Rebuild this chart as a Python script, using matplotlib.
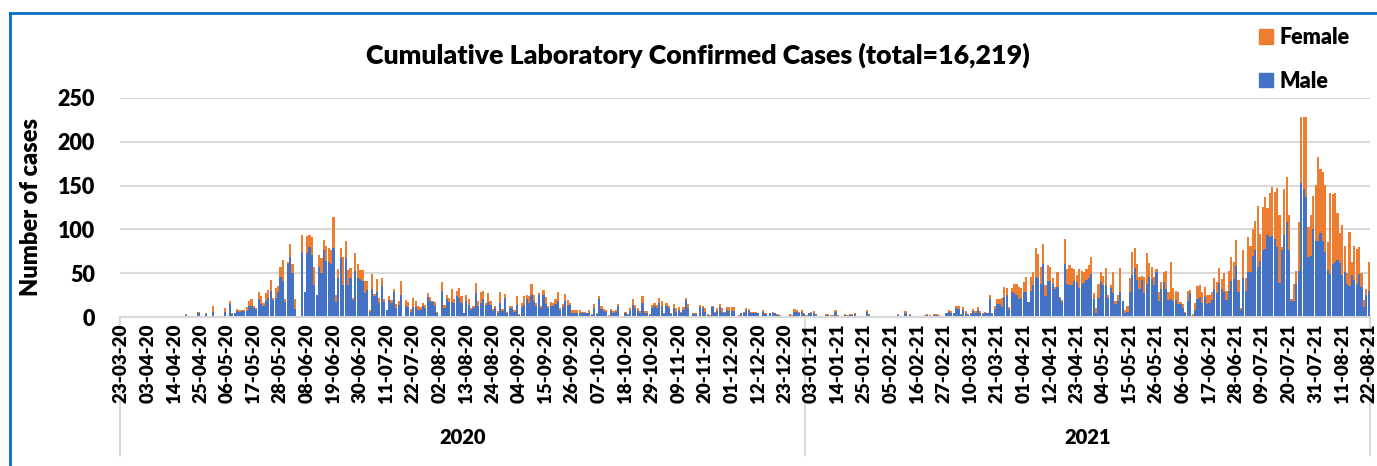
import numpy as np
import pandas as pd
import matplotlib
matplotlib.use("Agg")
import matplotlib.pyplot as plt
from matplotlib.patches import Patch
from matplotlib.lines import Line2D

# one category per day, 23-03-20 .. 22-08-21
dates = pd.date_range("2020-03-23", "2021-08-22", freq="D")
day_labels = list(dates.strftime("%d-%m-%y"))
years = ["2020", "2021"]
title = "Cumulative Laboratory Confirmed Cases (total=16,219)"

# daily cases, ten days per row
male = [
    0, 0, 0, 0, 0, 0, 0, 0, 0, 0,
    0, 0, 0, 0, 0, 0, 0, 0, 0, 0,
    0, 0, 0, 0, 0, 0, 0, 2, 0, 0,
    0, 0, 4, 0, 0, 3, 0, 1, 6, 1,
    0, 0, 0, 6, 0, 15, 3, 4, 7, 6,
    7, 7, 7, 13, 13, 10, 9, 21, 15, 12,
    18, 22, 30, 19, 22, 28, 46, 41, 17, 60,
    68, 50, 9, 0, 0, 74, 28, 73, 80, 71,
    37, 25, 57, 50, 76, 64, 63, 60, 79, 17,
    44, 67, 37, 67, 36, 44, 19, 53, 45, 43,
    41, 27, 31, 6, 32, 24, 29, 16, 35, 17,
    8, 19, 16, 29, 10, 14, 25, 0, 13, 11,
    6, 11, 11, 8, 8, 12, 10, 23, 18, 17,
    12, 5, 0, 30, 10, 20, 17, 17, 16, 24,
    22, 16, 5, 18, 14, 8, 10, 27, 13, 16,
    20, 14, 17, 14, 7, 10, 5, 16, 7, 22,
    5, 10, 10, 6, 14, 2, 11, 14, 20, 16,
    25, 18, 12, 25, 10, 25, 15, 10, 12, 12,
    15, 18, 8, 11, 18, 14, 14, 5, 4, 4,
    4, 4, 4, 4, 5, 2, 10, 3, 20, 9,
    7, 6, 1, 7, 5, 6, 13, 1, 0, 4,
    2, 7, 14, 10, 7, 5, 16, 5, 5, 2,
    10, 12, 10, 16, 13, 3, 13, 10, 3, 10,
    6, 8, 4, 8, 19, 10, 0, 3, 3, 0,
    11, 10, 6, 2, 1, 11, 4, 7, 11, 6,
    4, 8, 7, 7, 7, 1, 1, 4, 4, 8,
    7, 4, 5, 4, 4, 1, 6, 3, 1, 4,
    4, 4, 2, 1, 1, 0, 1, 2, 1, 6,
    6, 4, 6, 3, 1, 4, 4, 5, 2, 1,
    1, 1, 2, 2, 1, 1, 6, 1, 1, 1,
    2, 1, 2, 2, 3, 1, 1, 1, 1, 6,
    2, 1, 1, 0, 0, 1, 0, 1, 0, 0,
    1, 0, 2, 1, 0, 5, 1, 2, 1, 1,
    0, 0, 1, 1, 2, 1, 0, 2, 2, 1,
    1, 0, 4, 6, 5, 4, 10, 9, 2, 8,
    5, 2, 3, 7, 5, 8, 5, 3, 4, 4,
    21, 3, 9, 15, 15, 11, 23, 25, 9, 28,
    27, 25, 21, 22, 29, 29, 17, 30, 37, 46,
    44, 38, 60, 24, 41, 41, 38, 32, 34, 22,
    17, 60, 38, 36, 37, 41, 40, 33, 38, 39,
    42, 44, 49, 21, 5, 22, 40, 37, 37, 22,
    33, 27, 15, 18, 29, 18, 4, 6, 29, 48,
    56, 42, 32, 42, 27, 38, 46, 43, 37, 51,
    18, 32, 40, 32, 19, 21, 18, 19, 15, 15,
    10, 5, 18, 27, 1, 8, 21, 23, 16, 23,
    15, 16, 19, 32, 27, 39, 32, 29, 19, 30,
    41, 43, 58, 29, 8, 44, 30, 51, 51, 70,
    77, 57, 64, 76, 78, 94, 91, 92, 89, 80,
    39, 77, 94, 108, 76, 18, 18, 38, 53, 153,
    146, 137, 68, 70, 101, 87, 87, 96, 87, 74,
    54, 49, 60, 63, 65, 62, 48, 51, 38, 35,
    48, 42, 38, 49, 34, 11, 25, 30,
]

female = [
    0, 0, 0, 0, 0, 0, 0, 0, 0, 0,
    0, 0, 0, 0, 0, 0, 0, 0, 0, 0,
    0, 0, 0, 0, 0, 0, 0, 1, 0, 0,
    0, 0, 2, 0, 0, 1, 0, 0, 6, 0,
    0, 0, 0, 4, 0, 3, 1, 1, 2, 2,
    1, 1, 4, 5, 7, 3, 1, 7, 9, 4,
    9, 9, 12, 3, 11, 7, 11, 24, 4, 3,
    15, 10, 11, 0, 0, 20, 1, 20, 14, 20,
    20, 0, 14, 17, 12, 17, 16, 17, 35, 8,
    11, 12, 32, 20, 18, 12, 3, 20, 15, 11,
    13, 14, 10, 2, 17, 2, 14, 6, 9, 4,
    0, 5, 3, 3, 5, 4, 16, 0, 6, 6,
    3, 11, 7, 4, 3, 4, 4, 4, 5, 1,
    5, 1, 0, 10, 4, 5, 5, 15, 4, 6,
    11, 8, 0, 7, 7, 2, 2, 12, 5, 13,
    10, 2, 10, 4, 2, 3, 2, 12, 2, 4,
    1, 2, 2, 2, 10, 1, 5, 10, 5, 8,
    13, 7, 4, 2, 3, 6, 8, 3, 5, 4,
    5, 11, 2, 4, 8, 5, 2, 3, 4, 4,
    4, 2, 2, 1, 3, 1, 5, 1, 4, 3,
    2, 2, 1, 2, 2, 2, 2, 0, 0, 2,
    1, 3, 6, 4, 3, 2, 8, 2, 2, 1,
    4, 4, 4, 6, 5, 1, 3, 3, 1, 5,
    4, 3, 2, 3, 3, 5, 0, 2, 1, 0,
    3, 3, 4, 1, 1, 2, 2, 3, 4, 4,
    2, 3, 4, 4, 4, 0, 1, 1, 2, 2,
    2, 2, 1, 2, 1, 0, 2, 1, 0, 1,
    2, 1, 1, 1, 0, 0, 0, 1, 1, 3,
    2, 2, 2, 1, 1, 1, 2, 2, 1, 0,
    0, 0, 1, 1, 1, 1, 2, 1, 0, 0,
    1, 1, 1, 1, 2, 0, 0, 0, 0, 2,
    1, 0, 0, 0, 0, 0, 0, 0, 0, 0,
    0, 0, 1, 0, 0, 2, 0, 1, 0, 0,
    0, 0, 0, 1, 1, 1, 0, 1, 1, 1,
    0, 0, 1, 2, 2, 1, 3, 3, 1, 3,
    2, 1, 1, 2, 2, 3, 2, 1, 2, 1,
    4, 1, 3, 6, 6, 11, 11, 8, 2, 5,
    11, 13, 13, 11, 11, 17, 0, 16, 14, 33,
    28, 19, 23, 12, 18, 16, 6, 2, 17, 1,
    2, 29, 17, 23, 19, 14, 8, 22, 14, 12,
    13, 15, 19, 6, 5, 16, 11, 10, 19, 3,
    4, 24, 3, 7, 27, 0, 4, 6, 15, 26,
    23, 18, 14, 5, 19, 35, 16, 14, 9, 4,
    11, 8, 11, 20, 10, 42, 15, 11, 13, 2,
    5, 1, 12, 4, 2, 8, 14, 13, 13, 11,
    10, 9, 10, 13, 13, 17, 11, 21, 11, 23,
    27, 20, 30, 13, 2, 32, 14, 40, 30, 30,
    33, 70, 31, 50, 59, 31, 50, 56, 54, 67,
    77, 3, 52, 52, 40, 2, 20, 15, 56, 75,
    82, 91, 35, 46, 37, 64, 96, 73, 78, 77,
    32, 92, 80, 78, 54, 34, 57, 30, 12, 62,
    15, 39, 40, 31, 16, 8, 7, 33,
]

BLUE = "#4472C4"
ORANGE = "#ED7D31"
GRID = "#D9D9D9"
WT = "heavy"

plt.rcParams["font.family"] = ["Lato", "DejaVu Sans"]
plt.rcParams["font.weight"] = WT

W, H = 1377, 466
fig = plt.figure(figsize=(W / 100, H / 100), dpi=100)
ax = fig.add_axes([120 / W, 1 - 317 / H, 1250 / W, 219 / H])

x = np.arange(len(dates))
ax.bar(x, male, width=0.9, color=BLUE, linewidth=0)
ax.bar(x, female, bottom=male, width=0.9, color=ORANGE, linewidth=0)

ax.set_xlim(-0.5, len(dates) - 0.5)
ax.set_ylim(0, 250)
ax.set_yticks(range(0, 251, 50))
ax.yaxis.grid(True, color=GRID, linewidth=1.5)
ax.set_axisbelow(True)
for s in ["top", "right", "left"]:
    ax.spines[s].set_visible(False)
ax.spines["bottom"].set_color(GRID)
ax.spines["bottom"].set_linewidth(1.5)

ax.set_xticks(x[::11])
ax.set_xticklabels(day_labels[::11], rotation=90, fontsize=13.5, fontweight=WT)
ax.tick_params(axis="x", length=0, pad=5)
ax.tick_params(axis="y", length=0, pad=18, labelsize=15.5)

ax.set_ylabel("Number of cases", fontsize=17, fontweight=WT)
ax.yaxis.set_label_coords(-0.062, 0.5)

# year grouping under the day labels (drawn behind the labels)
trans = ax.get_xaxis_transform()
first_2021 = int(np.argmax(dates.year == 2021))
for b in [-0.5, first_2021 - 0.5, len(dates) - 0.5]:
    ax.plot([b, b], [0, -0.63], transform=trans, color=GRID, lw=1.5,
            clip_on=False, zorder=0.5)
centers = [(first_2021 - 1) / 2, (first_2021 + len(dates) - 1) / 2]
for c, yr in zip(centers, years):
    ax.text(c, -0.548, yr, transform=trans, ha="center", va="center",
            fontsize=14.5, fontweight=WT)

fig.text(698 / W, 1 - 55 / H, title, ha="center", va="center",
         fontsize=19.3, fontweight=WT)

handles = [Patch(color=ORANGE, label="Female"), Patch(color=BLUE, label="Male")]
fig.legend(handles=handles, loc="upper left", bbox_to_anchor=(1259 / W, 1 - 27 / H),
           frameon=False, fontsize=15.5, handlelength=0.65, handleheight=0.65,
           handletextpad=0.3, labelspacing=1.05, borderpad=0, borderaxespad=0)

# frame of the surrounding document box
bx, by = 10 / W, 1 - 13 / H
fig.add_artist(Line2D([bx, bx], [0, by], color="#0070C0", lw=2))
fig.add_artist(Line2D([bx, 1], [by, by], color="#0070C0", lw=2))

fig.savefig("out.png", dpi=100)
